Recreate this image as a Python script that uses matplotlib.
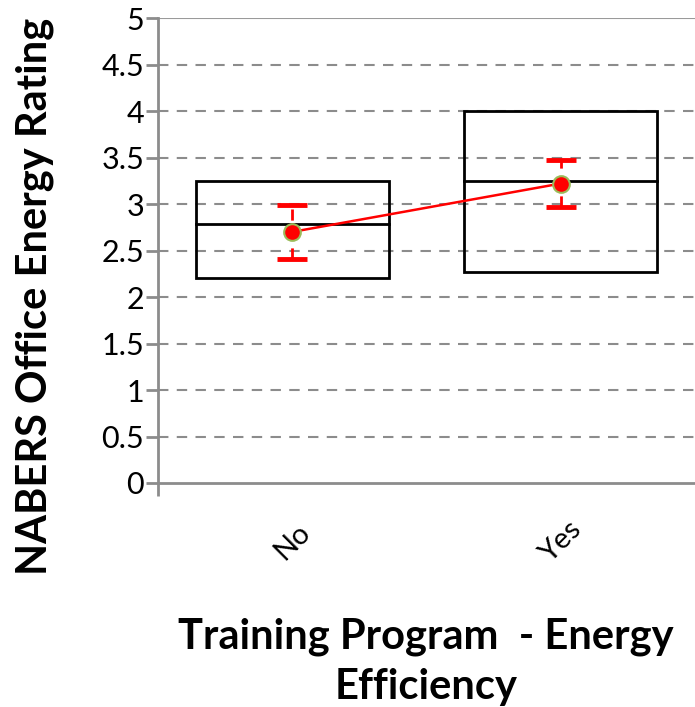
import matplotlib
matplotlib.use("Agg")
import matplotlib.pyplot as plt
from matplotlib.patches import Rectangle

plt.rcParams['font.family'] = ['Lato', 'DejaVu Sans']

categories = ["No", "Yes"]
box_low = [2.2, 2.27]
box_high = [3.25, 4.0]
medians = [2.78, 3.25]
means = [2.70, 3.22]
ci_low = [2.41, 2.97]
ci_high = [2.99, 3.47]
y_ticks = [0, 0.5, 1, 1.5, 2, 2.5, 3, 3.5, 4, 4.5, 5]
y_tick_labels = ["0", "0.5", "1", "1.5", "2", "2.5", "3", "3.5", "4", "4.5", "5"]

fig = plt.figure(figsize=(6.95, 7.07), dpi=100)
ax = fig.add_axes([158 / 695, 1 - 483 / 707, 537 / 695, 465 / 707])

xpos = [i + 0.5 for i in range(len(categories))]
ax.set_xlim(0, len(categories))
ax.set_ylim(0, 5)

# grid
for yv in y_ticks[1:-1]:
    ax.axhline(yv, color='#8c8c8c', lw=1.5, ls=(0, (5, 4)), zorder=1)
ax.axhline(5, color='#9a9a9a', lw=1.5, zorder=1)

# boxes
bw = 0.72
for x, lo, hi, md in zip(xpos, box_low, box_high, medians):
    ax.add_patch(Rectangle((x - bw / 2, lo), bw, hi - lo, fill=False,
                           edgecolor='black', lw=2, zorder=3))
    ax.plot([x - bw / 2, x + bw / 2], [md, md], color='black', lw=2, zorder=3)

# confidence intervals and means
for x, m, lo, hi in zip(xpos, means, ci_low, ci_high):
    ax.plot([x, x], [lo, hi], color='red', lw=2, ls=(0, (4, 3)), zorder=4)
    for yv in (lo, hi):
        ax.plot([x - 0.055, x + 0.055], [yv, yv], color='red', lw=3.5,
                solid_capstyle='butt', zorder=4)
ax.plot(xpos, means, color='red', lw=1.8, zorder=5)
ax.plot(xpos, means, ls='none', marker='o', ms=12, mfc='red',
        mec='#9bbb59', mew=1.5, zorder=6)

# axes styling
for s in ('top', 'right'):
    ax.spines[s].set_visible(False)
for s in ('left', 'bottom'):
    ax.spines[s].set_color('#8c8c8c')
    ax.spines[s].set_linewidth(2)

ax.set_yticks(y_ticks)
ax.set_yticklabels(y_tick_labels, fontsize=22)
ax.tick_params(axis='y', length=9, width=2, color='#8c8c8c', pad=1)

ax.set_xticks([0])
ax.set_xticklabels([""])
ax.tick_params(axis='x', length=9, width=2, color='#8c8c8c')
for x, c in zip(xpos, categories):
    ax.text(x, -0.63, c, rotation=45, ha='center', va='center', fontsize=21,
            transform=ax.transData)

fig.text(0.05, 0.581, "NABERS Office Energy Rating",
         rotation=90, ha='center', va='center', fontsize=30, fontweight='bold')
fig.text(0.613, 0.064, "Training Program  - Energy\nEfficiency", ha='center',
         va='center', fontsize=30, fontweight='bold', linespacing=1.4)

fig.savefig("out.png", dpi=100)
